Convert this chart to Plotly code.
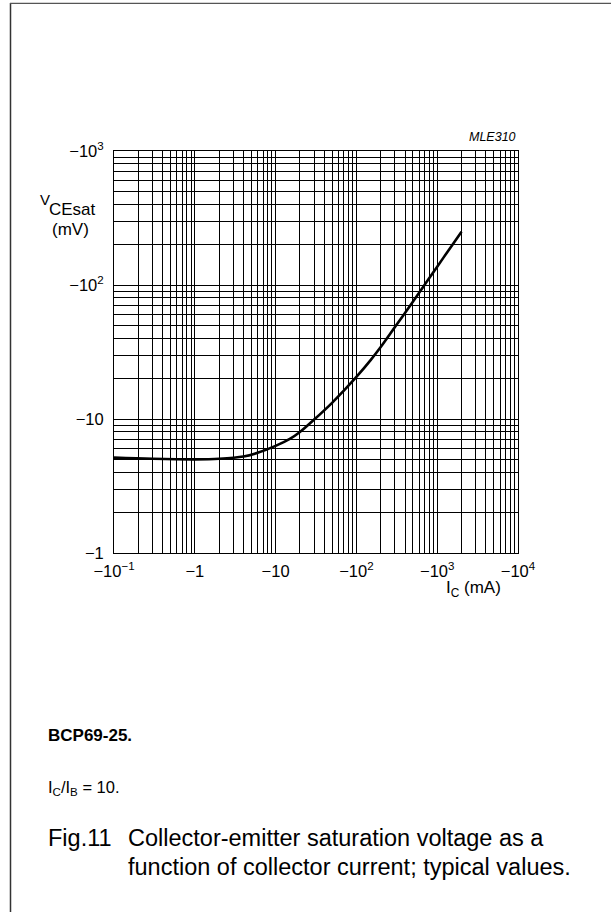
import plotly.graph_objects as go

# ---- data (magnitudes; axis labels carry the minus signs) ----
ic_ma = [0.1, 0.3, 1, 2, 4, 6, 10, 15, 20, 30, 50, 70, 100, 150, 200, 300, 500, 700, 1000, 1500, 2000]
vce_mv = [5.15, 5.05, 5.0, 5.05, 5.25, 5.6, 6.3, 7.1, 8.0, 9.9, 13.2, 16.3, 20.6, 27.5, 34.4, 48.5,
          75, 100.5, 137, 195, 250]

x_major = [0.1, 1, 10, 100, 1000, 10000]
x_major_text = ["\u221210<sup>\u22121</sup>", "\u22121", "\u221210", "\u221210<sup>2</sup>",
                "\u221210<sup>3</sup>", "\u221210<sup>4</sup>"]
y_major = [1, 10, 100, 1000]
y_major_text = ["\u22121", "\u221210", "\u221210<sup>2</sup>", "\u221210<sup>3</sup>"]
digits = [1, 2, 3, 4, 5, 6, 7, 8, 9]

W, H = 611, 912
L, R, T, B = 114, 93, 151, 359
PW, PH = W - L - R, H - T - B


def px(x):
    return (x - L) / PW


def py(y):
    return 1 - (y - T) / PH


def all_ticks(majors, labels):
    vals, texts = [], []
    for i, m in enumerate(majors):
        vals.append(m)
        texts.append(labels[i])
        if i < len(majors) - 1:
            for d in digits[1:]:
                vals.append(m * d)
                texts.append("")
    return vals, texts


xv, xt = all_ticks(x_major, x_major_text)
yv, yt = all_ticks(y_major, y_major_text)

FONT = "Liberation Sans, Arial, Helvetica, sans-serif"
GRID = "#000000"

fig = go.Figure()
fig.add_trace(go.Scatter(x=ic_ma, y=vce_mv, mode="lines",
                         line=dict(color="black", width=2.6, shape="spline", smoothing=1.0),
                         hoverinfo="skip", showlegend=False))

fig.update_xaxes(type="log", range=[-1, 4], tickmode="array", tickvals=xv, ticktext=xt,
                 showgrid=True, gridcolor=GRID, gridwidth=1, zeroline=False,
                 showline=True, linecolor="black", linewidth=1, mirror=True,
                 ticks="", ticklabelstandoff=3,
                 tickfont=dict(family=FONT, size=16.5, color="black"))
fig.update_yaxes(type="log", range=[0, 3], tickmode="array", tickvals=yv, ticktext=yt,
                 showgrid=True, gridcolor=GRID, gridwidth=1, zeroline=False,
                 showline=True, linecolor="black", linewidth=1, mirror=True,
                 ticks="", ticklabelstandoff=6,
                 tickfont=dict(family=FONT, size=16.5, color="black"))

ann = []


def text(x, y, s, size, xanchor="left", yanchor="middle", **kw):
    ann.append(dict(x=px(x), y=py(y), xref="paper", yref="paper", text=s, showarrow=False,
                    xanchor=xanchor, yanchor=yanchor,
                    font=dict(family=FONT, size=size, color="black", **kw)))


text(518, 137, "<i>MLE310</i>", 12.5, xanchor="right")
text(38, 199, "V", 15)
text(47, 209, "CEsat", 17)
text(50, 230, "(mV)", 17)
text(444, 589, "I<sub>C</sub> (mA)", 17)
text(46, 735, "<b>BCP69-25.</b>", 17)
text(46, 788, "I<sub>C</sub>/I<sub>B</sub> = 10.", 16.5)
text(46, 838, "Fig.11", 23.5)
text(126, 838, "Collector-emitter saturation voltage as a", 23.5)
text(126, 867, "function of collector current; typical values.", 23.5)

shapes = [
    dict(type="line", xref="paper", yref="paper", x0=px(10.5), x1=px(10.5), y0=py(3), y1=py(H + 2),
         line=dict(color="#333", width=1.5)),
    dict(type="line", xref="paper", yref="paper", x0=px(10), x1=px(W + 2), y0=py(3.3), y1=py(3.3),
         line=dict(color="#555", width=1.2)),
]

fig.update_layout(width=W, height=H, margin=dict(l=L, r=R, t=T, b=B, pad=0),
                  paper_bgcolor="white", plot_bgcolor="white",
                  annotations=ann, shapes=shapes, showlegend=False)

fig.write_html("out.html")
